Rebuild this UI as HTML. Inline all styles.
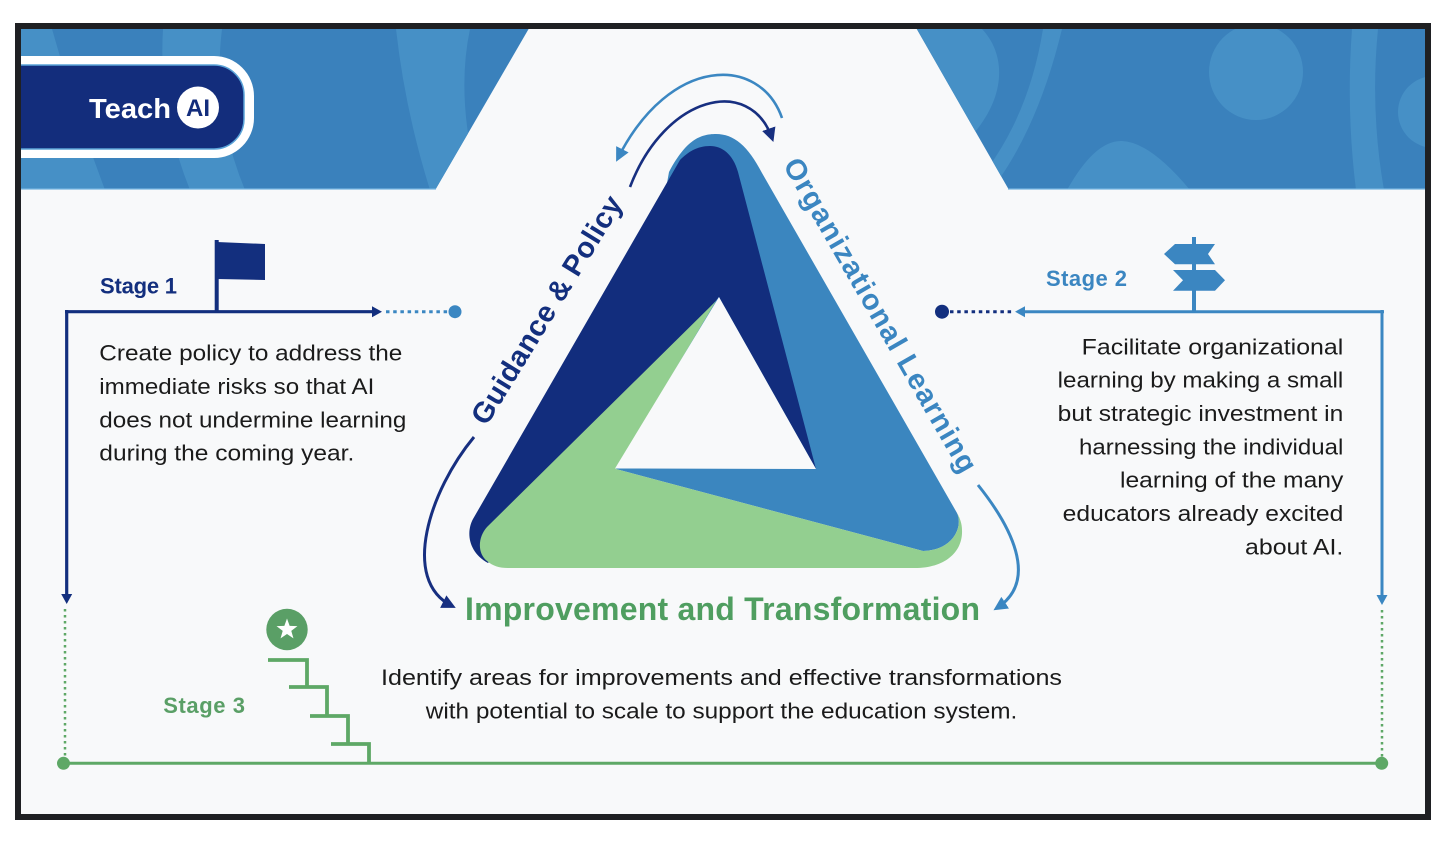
<!DOCTYPE html>
<html>
<head>
<meta charset="utf-8">
<style>
html,body{margin:0;padding:0;background:#ffffff;}
svg{display:block;}
text{font-family:"Liberation Sans",sans-serif;}
</style>
</head>
<body>
<svg xmlns="http://www.w3.org/2000/svg" width="1446" height="842" viewBox="0 0 1446 842">
<defs>
  <clipPath id="frame"><rect x="21" y="29" width="1404" height="785"/></clipPath>
  <clipPath id="bl"><polygon points="21,29 528.6,29 435.6,189.3 21,189.3"/></clipPath>
  <clipPath id="br"><polygon points="916.7,29 1426,29 1426,189.3 1008.6,189.3"/></clipPath>
  <marker id="mN" viewBox="0 0 10 10" refX="7" refY="5" markerWidth="14" markerHeight="14" markerUnits="userSpaceOnUse" orient="auto"><path d="M0,0 L10,5 L0,10 z" fill="#172f80"/></marker>
  <marker id="mB" viewBox="0 0 10 10" refX="7" refY="5" markerWidth="14" markerHeight="14" markerUnits="userSpaceOnUse" orient="auto"><path d="M0,0 L10,5 L0,10 z" fill="#3b87c2"/></marker>
</defs>

<!-- frame -->
<rect x="0" y="0" width="1446" height="842" fill="#ffffff"/>
<rect x="15" y="23" width="1416" height="797" fill="#1f2023"/>
<rect x="21" y="29" width="1404" height="785" fill="#f8f9fa"/>

<g clip-path="url(#frame)">
  <!-- left banner -->
  <g clip-path="url(#bl)">
    <rect x="21" y="29" width="510" height="161" fill="#3a81bc"/>
    <path d="M21,29 L52,29 Q75,110 105,190 L21,190Z" fill="#4690c6"/>
    <path d="M163,29 L222,29 Q212,110 245,190 L190,190 Q158,110 163,29Z" fill="#4690c6"/>
    <path d="M396,29 L470,29 Q455,100 480,190 L430,190 Q405,110 396,29Z" fill="#4690c6"/>
  </g>
  <line x1="21" y1="189" x2="436" y2="189" stroke="#74b4e0" stroke-width="1.2"/>

  <!-- right banner -->
  <g clip-path="url(#br)">
    <rect x="900" y="29" width="530" height="161" fill="#3a81bc"/>
    <path d="M917,29 L982,29 C1004,52 1008,92 975,132 Z" fill="#4690c6"/>
    <path d="M1043,29 L1062,29 Q1040,120 1000,178 L988,168 Q1030,110 1043,29Z" fill="#4690c6"/>
    <ellipse cx="1256" cy="72" rx="47" ry="48" fill="#4690c6"/>
    <path d="M1067,190 Q1095,140 1122,141 Q1150,142 1190,190Z" fill="#4690c6"/>
    <path d="M1352,29 L1378,29 Q1370,110 1384,190 L1356,190 Q1346,110 1352,29Z" fill="#4690c6"/>
    <circle cx="1434" cy="112" r="36" fill="#4690c6"/>
  </g>
  <line x1="1008" y1="189" x2="1425" y2="189" stroke="#74b4e0" stroke-width="1.2"/>

  <!-- logo -->
  <rect x="-40" y="56" width="294" height="102" rx="40" fill="#ffffff"/>
  <rect x="-40" y="65" width="284" height="84" rx="30" fill="#132d7c" stroke="#5aa3d8" stroke-width="1.5"/>
  <text x="89" y="118" font-size="28" font-weight="bold" fill="#ffffff" textLength="82" lengthAdjust="spacingAndGlyphs">Teach</text>
  <circle cx="198" cy="107.5" r="21" fill="#ffffff"/>
  <text x="198" y="116" font-size="24" font-weight="bold" fill="#132d7c" text-anchor="middle">AI</text>
</g>

<!-- ===== Triangle ===== -->
<path d="M669,172 C686,140 700,134 716,134 C734,134 748,146 762,173 L957,513 C963,525 955,550 923,551 L616,469 Z" fill="#3b86bf"/>
<path d="M738,172 C733,154 722,146 710,146 C697,146 688,152 680,160 L473,519 C466,532 468,552 488,563 L713,304 L719,297 L816,469 Z" fill="#122d7d"/>
<path d="M716,301 L487,527 C478,537 477,553 487,561 C493,566 499,568 508,568 L915,568 C945,568 963,552 962,530 C962,524 960,518 957,513 C963,525 955,550 923,551 L616,469 Z" fill="#93cf90"/>
<path d="M719,297 L615,468.5 L816,469 Z" fill="#f8f9fa"/>

<!-- curved arrows -->
<path d="M782,118 C760,55 670,55 618,158" fill="none" stroke="#3b87c2" stroke-width="2.6" marker-end="url(#mB)"/>
<path d="M630,187 C665,95 750,75 772,138" fill="none" stroke="#172f80" stroke-width="2.6" marker-end="url(#mN)"/>
<path d="M474,437 C430,490 400,580 452,606" fill="none" stroke="#172f80" stroke-width="3" marker-end="url(#mN)"/>
<path d="M978,485 C1010,525 1040,580 997,608" fill="none" stroke="#3b87c2" stroke-width="3" marker-end="url(#mB)"/>

<!-- labels around triangle -->
<text x="555" y="315" font-size="29" font-weight="bold" fill="#132f7e" text-anchor="middle" textLength="262" transform="rotate(-58.5 555 315)">Guidance &amp; Policy</text>
<text x="872" y="320" font-size="29" font-weight="bold" fill="#3b86c1" text-anchor="middle" textLength="358" transform="rotate(60 872 320)">Organizational Learning</text>
<text x="465" y="620" font-size="32" font-weight="bold" fill="#4f9e60" textLength="515">Improvement and Transformation</text>

<!-- ===== Stage 1 ===== -->
<text x="100" y="293.3" font-size="22" font-weight="bold" fill="#132f7e" textLength="77">Stage 1</text>
<rect x="214.7" y="240" width="4" height="72" fill="#132f7e"/>
<path d="M217,242 L265,244 L265,280 L217,279 Z" fill="#132f7e"/>
<line x1="65" y1="311.7" x2="374" y2="311.7" stroke="#132f7e" stroke-width="3.2"/>
<polygon points="372,306.2 382,311.7 372,317.2" fill="#132f7e"/>
<line x1="66.7" y1="310" x2="66.7" y2="596" stroke="#132f7e" stroke-width="3.2"/>
<polygon points="61.2,594 72.2,594 66.7,604" fill="#132f7e"/>
<line x1="386" y1="311.7" x2="449" y2="311.7" stroke="#3b87c2" stroke-width="3" stroke-dasharray="3.5 3.7"/>
<circle cx="455" cy="311.7" r="6.5" fill="#3b87c2"/>

<g font-size="22" fill="#1b1b1b">
  <text x="99.3" y="360.7" textLength="303" lengthAdjust="spacingAndGlyphs">Create policy to address the</text>
  <text x="99.3" y="394" textLength="275" lengthAdjust="spacingAndGlyphs">immediate risks so that AI</text>
  <text x="99.3" y="427.3" textLength="307" lengthAdjust="spacingAndGlyphs">does not undermine learning</text>
  <text x="99.3" y="460.7" textLength="255" lengthAdjust="spacingAndGlyphs">during the coming year.</text>
</g>

<!-- ===== Stage 2 ===== -->
<text x="1046" y="286" font-size="22" font-weight="bold" fill="#3b86c1" textLength="81">Stage 2</text>
<rect x="1192" y="237" width="4" height="74" fill="#3b86c1"/>
<polygon points="1164,254 1175,244 1215,244 1208,254 1215,264.3 1175,264.3" fill="#3b86c1"/>
<polygon points="1173,270 1215,270 1225,280.3 1215,290.7 1173,290.7 1183,280.3" fill="#3b86c1"/>
<line x1="1022" y1="311.7" x2="1384" y2="311.7" stroke="#3b87c2" stroke-width="3"/>
<polygon points="1025,306.2 1015,311.7 1025,317.2" fill="#3b87c2"/>
<line x1="1382" y1="310" x2="1382" y2="597" stroke="#3b87c2" stroke-width="3"/>
<polygon points="1376.5,595 1387.5,595 1382,605" fill="#3b87c2"/>
<line x1="950" y1="311.7" x2="1012" y2="311.7" stroke="#132f7e" stroke-width="3" stroke-dasharray="3.5 3.7"/>
<circle cx="942" cy="311.7" r="7" fill="#132f7e"/>

<g font-size="22" fill="#1b1b1b">
  <text x="1081.7" y="354.3" textLength="261.6" lengthAdjust="spacingAndGlyphs">Facilitate organizational</text>
  <text x="1057.7" y="387.7" textLength="285.6" lengthAdjust="spacingAndGlyphs">learning by making a small</text>
  <text x="1057.7" y="421" textLength="285.6" lengthAdjust="spacingAndGlyphs">but strategic investment in</text>
  <text x="1079" y="454.3" textLength="264.3" lengthAdjust="spacingAndGlyphs">harnessing the individual</text>
  <text x="1120" y="487.7" textLength="223.3" lengthAdjust="spacingAndGlyphs">learning of the many</text>
  <text x="1062.7" y="521" textLength="280.6" lengthAdjust="spacingAndGlyphs">educators already excited</text>
  <text x="1245" y="554.3" textLength="98.3" lengthAdjust="spacingAndGlyphs">about AI.</text>
</g>

<!-- ===== Stage 3 / bottom ===== -->
<line x1="65" y1="609" x2="65" y2="760" stroke="#5ea866" stroke-width="2.5" stroke-dasharray="2.5 3.5"/>
<line x1="1382" y1="610" x2="1382" y2="760" stroke="#5ea866" stroke-width="2.5" stroke-dasharray="2.5 3.5"/>
<line x1="63" y1="763.3" x2="1382" y2="763.3" stroke="#5ea866" stroke-width="3"/>
<circle cx="63.5" cy="763.3" r="6.5" fill="#5ea866"/>
<circle cx="1381.7" cy="763.3" r="6.5" fill="#5ea866"/>

<path d="M268,660 H307 V687 M289,687 H327 V716 M310,716 H348 V744 M331,744 H369 V763" fill="none" stroke="#5ea866" stroke-width="3.8"/>
<circle cx="287" cy="629.5" r="20.7" fill="#5a9f66"/>
<polygon points="287,618.5 289.65,625.86 297.46,626.1 291.28,630.89 293.47,638.4 287,634 280.53,638.4 282.72,630.89 276.54,626.1 284.35,625.86" fill="#ffffff"/>

<text x="163.3" y="713" font-size="22" font-weight="bold" fill="#5a9f66" textLength="81.7">Stage 3</text>

<g font-size="22" fill="#1b1b1b">
  <text x="381" y="685" textLength="681" lengthAdjust="spacingAndGlyphs">Identify areas for improvements and effective transformations</text>
  <text x="425.8" y="718.3" textLength="591.5" lengthAdjust="spacingAndGlyphs">with potential to scale to support the education system.</text>
</g>
</svg>
</body>
</html>
